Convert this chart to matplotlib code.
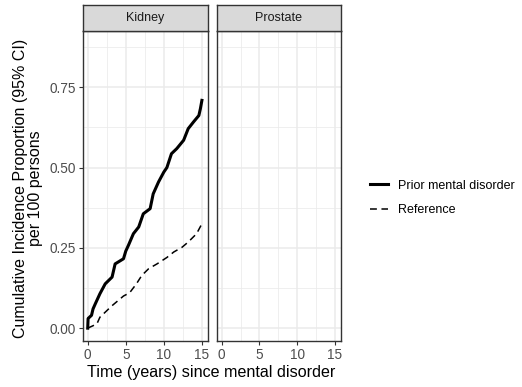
import matplotlib
matplotlib.use('Agg')
import matplotlib.pyplot as plt
from matplotlib.lines import Line2D

plt.rcParams['font.family'] = ['Liberation Sans', 'DejaVu Sans']

# data (years, cumulative incidence per 100 persons)
panels = ['Kidney', 'Prostate']

prior_t = [0, 0.05, 0.5, 0.7, 1.0, 1.6, 2.3, 3.2, 3.6, 4.7, 5.0, 5.35, 6.0, 6.7,
           7.3, 8.2, 8.6, 9.3, 10.0, 10.4, 11.0, 11.7, 12.6, 13.2, 13.9, 14.6,
           14.8, 15.0]
prior_v = [0, 0.03, 0.04, 0.06, 0.076, 0.107, 0.138, 0.159, 0.20, 0.216, 0.24,
           0.258, 0.294, 0.315, 0.356, 0.372, 0.418, 0.455, 0.486, 0.50, 0.543,
           0.559, 0.585, 0.621, 0.642, 0.662, 0.683, 0.709]

ref_t = [0, 1.2, 1.6, 3.2, 4.7, 5.5, 6.4, 7.1, 8.0, 9.1, 10.4, 11.3, 12.4,
         13.2, 14.3, 15.0]
ref_v = [0, 0.013, 0.034, 0.07, 0.10, 0.11, 0.138, 0.164, 0.185, 0.20, 0.22,
         0.237, 0.252, 0.268, 0.294, 0.325]

xticks = [0, 5, 10, 15]
yticks = [0, 0.25, 0.5, 0.75]
yticklabels = ['0.00', '0.25', '0.50', '0.75']

W, H = 522, 387
fig = plt.figure(figsize=(W / 100, H / 100), dpi=100)

def box(x0, y0, x1, y1):
    return [x0 / W, (H - y1) / H, (x1 - x0) / W, (y1 - y0) / H]

panel_x = [(83, 208), (217, 341)]
grid_c = '#EBEBEB'
edge_c = '#333333'

axes = []
for i, (name, (x0, x1)) in enumerate(zip(panels, panel_x)):
    ax = fig.add_axes(box(x0, 31, x1, 341))
    ax.set_xlim(-0.62, 15.8)
    ax.set_ylim(-0.04, 0.925)
    ax.set_xticks(xticks)
    ax.set_yticks(yticks)
    ax.set_xticks([2.5, 7.5, 12.5], minor=True)
    ax.set_yticks([0.125, 0.375, 0.625, 0.875], minor=True)
    ax.grid(which='major', color=grid_c, linewidth=1.1)
    ax.grid(which='minor', color=grid_c, linewidth=0.55)
    ax.set_axisbelow(True)
    ax.tick_params(which='minor', length=0)
    ax.tick_params(which='major', length=3, color=edge_c, width=0.8,
                   labelsize=9.8, labelcolor='#4D4D4D', pad=2)
    if i == 0:
        ax.set_yticklabels(yticklabels)
    else:
        ax.tick_params(axis='y', which='major', length=0, labelleft=False)
    for s in ax.spines.values():
        s.set_color(edge_c)
        s.set_linewidth(1.0)

    # facet strip
    sax = fig.add_axes(box(x0, 5, x1, 31))
    sax.set_facecolor('#D9D9D9')
    sax.set_xticks([])
    sax.set_yticks([])
    for s in sax.spines.values():
        s.set_color(edge_c)
        s.set_linewidth(1.0)
    sax.text(0.5, 0.5, name, ha='center', va='center', fontsize=9,
             color='#1A1A1A', transform=sax.transAxes)
    axes.append(ax)

axes[0].plot(prior_t, prior_v, color='black', linewidth=2.2, solid_joinstyle='round')
axes[0].plot(ref_t, ref_v, color='black', linewidth=1.1, linestyle=(0, (4.5, 3)))

fig.text(211 / W, 1 - 372 / H, 'Time (years) since mental disorder',
         ha='center', va='center', fontsize=11.6)
fig.text(28 / W, 1 - 188 / H,
         'Cumulative Incidence Proportion (95% CI)\nper 100 persons',
         ha='center', va='center', rotation=90, fontsize=11.5,
         linespacing=1.05)

handles = [Line2D([], [], color='black', linewidth=2.2),
           Line2D([], [], color='black', linewidth=1.1, linestyle=(0, (4.5, 3)))]
fig.legend(handles, ['Prior mental disorder', 'Reference'],
           loc='center left', bbox_to_anchor=(370 / W, 1 - 198 / H),
           frameon=False, fontsize=9, handlelength=1.4, handletextpad=0.85,
           labelspacing=1.0, borderpad=0, borderaxespad=0)

fig.savefig('out.png', dpi=100)
